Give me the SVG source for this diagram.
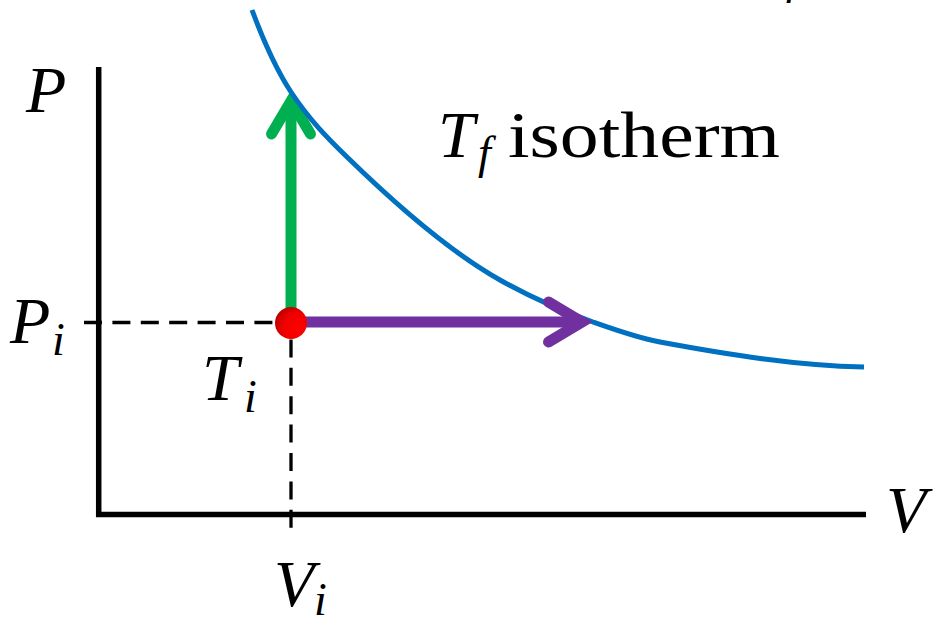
<svg xmlns="http://www.w3.org/2000/svg" width="936" height="621" viewBox="0 0 936 621">
<style>
.m{font-family:"Liberation Serif","DejaVu Serif",serif;font-style:italic;fill:#000}
.r{font-family:"Liberation Serif","DejaVu Serif",serif;fill:#000}
.big{font-size:66px}
.sub{font-size:46px}
.axis{stroke:#000;stroke-width:5.5;fill:none}
.dash{stroke:#000;stroke-width:3.3;fill:none;stroke-dasharray:18 10.4}
.arr{fill:none;stroke-width:11;stroke-linecap:round;stroke-linejoin:miter}
</style>
<defs>
<radialGradient id="dotg" cx="0.7" cy="0.65" r="0.75">
<stop offset="0" stop-color="#ff0000"/>
<stop offset="0.6" stop-color="#f00000"/>
<stop offset="1" stop-color="#b80000"/>
</radialGradient>
</defs>
<rect width="936" height="621" fill="#fff"/>
<g id="axes">
<path class="axis" d="M98.7,67 V514.5 H866" stroke-linejoin="miter"/>
</g>
<g id="connectors">
<line class="dash" x1="84" y1="322.5" x2="291" y2="322.5"/>
<line class="dash" x1="291" y1="311" x2="291" y2="530"/>
<g id="green-arrow" stroke="#00b050">
<line class="arr" x1="291" y1="322" x2="291" y2="104" stroke-linecap="butt"/>
<path class="arr" d="M271.5,134 L291,101 L310.5,134"/>
</g>
<path id="isotherm" d="M252,10 C265,44.8 278,72.2 291,92 C309.7,120.4 328.3,138.8 347,157 C398,206.7 449,251.3 500,280 C531,297.5 562,311 593,322 C615.3,329.9 637.7,337.9 660,342 C728,354.6 796,365.6 864,367" fill="none" stroke="#0070c0" stroke-width="5"/>
<g id="purple-arrow" stroke="#7030a0">
<line class="arr" x1="291" y1="322" x2="580" y2="322" stroke-linecap="butt"/>
<path class="arr" d="M548.5,302 L582,322 L548.5,342"/>
</g>
</g>
<g id="state-i">
<circle cx="291" cy="323" r="16" fill="url(#dotg)"/>
</g>
<g id="labels">
<text class="m big" x="26" y="112">P</text>
<text class="m big" x="10" y="343">P</text>
<text class="m sub" x="52" y="355">i</text>
<text class="m big" x="202" y="400">T</text>
<text class="m sub" x="244" y="412">i</text>
<text class="m big" x="274" y="606">V</text>
<text class="m sub" x="314" y="615">i</text>
<text class="m big" x="886" y="532">V</text>
<text class="m big" x="438" y="157">T</text>
<text class="m sub" x="478" y="168">f</text>
<text class="r big" x="508" y="157" textLength="272" lengthAdjust="spacingAndGlyphs">isotherm</text>
<text class="m sub" x="786" y="-7">f</text>
</g>
</svg>
